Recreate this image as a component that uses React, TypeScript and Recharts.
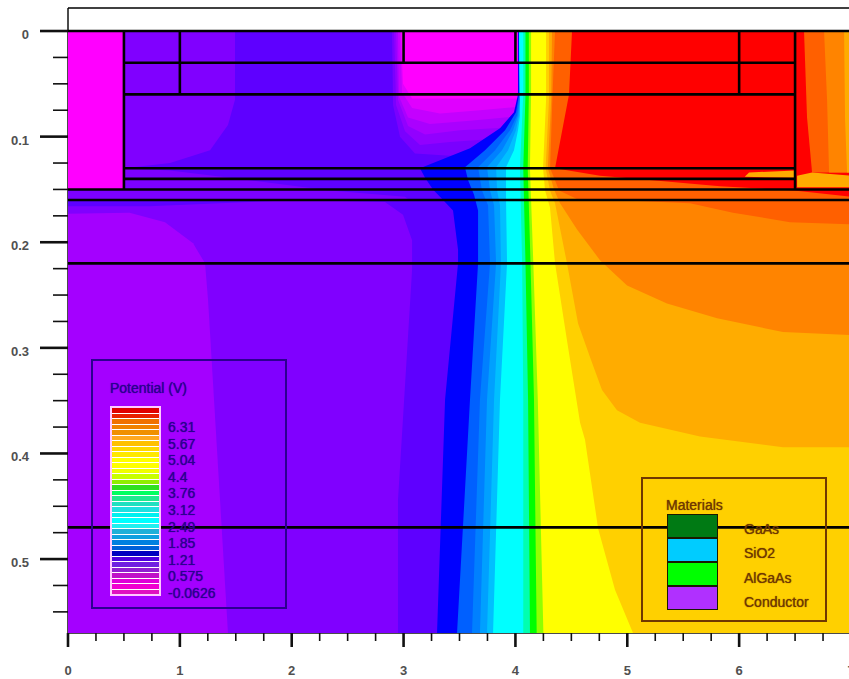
import React from "react";
import { ScatterChart, Scatter, XAxis, YAxis } from "recharts";

type Pt = [number, number];

const X_MAX = 7;
const Y_MIN = -0.0218;
const Y_MAX = 0.57;

const xTicks = [
  0, 0.25, 0.5, 0.75, 1, 1.25, 1.5, 1.75, 2, 2.25, 2.5, 2.75, 3, 3.25, 3.5, 3.75, 4, 4.25, 4.5, 4.75, 5, 5.25, 5.5,
  5.75, 6, 6.25, 6.5, 6.75, 7,
];
const yTicks = [
  0, 0.025, 0.05, 0.075, 0.1, 0.125, 0.15, 0.175, 0.2, 0.225, 0.25, 0.275, 0.3, 0.325, 0.35, 0.375, 0.4, 0.425, 0.45,
  0.475, 0.5, 0.525, 0.55,
];

// low potential regions (left side)
const contact: Pt[] = [[0, 0], [0.5, 0], [0.5, 0.15], [0, 0.15]];
const upperPurple: Pt[] = [[0.5, 0], [1.493, 0], [1.493, 0.065], [1.43, 0.089], [1.27, 0.113], [0.912, 0.125], [0.5, 0.13]];
const purpleSliver: Pt[] = [[0.5, 0.13], [0.912, 0.132], [1.538, 0.14], [2.342, 0.151], [3.013, 0.157], [3.05, 0.16], [0, 0.16], [0, 0.15], [0.5, 0.15]];
const lowerPurple: Pt[] = [[0, 0.166], [0.733, 0.166], [1.359, 0.163], [2.074, 0.16], [2.834, 0.162], [2.995, 0.174], [3.076, 0.198], [3.076, 0.226], [2.95, 0.444], [2.95, 0.57], [0, 0.57]];
const lowerLight: Pt[] = [[0, 0.173], [0.55, 0.172], [0.867, 0.181], [1.118, 0.201], [1.225, 0.22], [1.252, 0.255], [1.43, 0.57], [0, 0.57]];

// magenta blob under the gate
const blob1: Pt[] = [[2.897, 0], [2.906, 0.07], [2.968, 0.1], [3.102, 0.116], [3.415, 0.118], [4.1, 0.118], [4.1, 0]];
const blob2: Pt[] = [[2.915, 0], [2.933, 0.07], [3.013, 0.095], [3.147, 0.108], [3.415, 0.105], [4.1, 0.1], [4.1, 0]];
const blob3: Pt[] = [[2.933, 0], [2.95, 0.065], [3.04, 0.09], [3.192, 0.098], [3.505, 0.094], [4.1, 0.09], [4.1, 0]];
const blob4: Pt[] = [[2.95, 0], [2.959, 0.062], [3.04, 0.082], [3.236, 0.088], [3.594, 0.085], [4.1, 0.08], [4.1, 0]];
const blob5: Pt[] = [[2.968, 0], [2.986, 0.058], [3.076, 0.073], [3.326, 0.078], [3.683, 0.075], [4.1, 0.071], [4.1, 0]];
const blob6: Pt[] = [[2.977, 0], [2.995, 0.05], [3.076, 0.064], [4.1, 0.064], [4.1, 0]];

// high potential regions, each one runs out to the right edge
const blue0: Pt[] = [[4.023, 0], [4.023, 0.06], [3.987, 0.077], [3.862, 0.092], [3.594, 0.111], [3.147, 0.13], [3.192, 0.139], [3.263, 0.15], [3.353, 0.16], [3.442, 0.17], [3.487, 0.207], [3.487, 0.22], [3.371, 0.349], [3.299, 0.57], [7, 0.57], [7, 0]];
const blue1: Pt[] = [[4.032, 0], [4.032, 0.06], [4.005, 0.077], [3.907, 0.094], [3.728, 0.113], [3.549, 0.129], [3.576, 0.141], [3.63, 0.155], [3.666, 0.17], [3.666, 0.22], [3.594, 0.349], [3.478, 0.57], [7, 0.57], [7, 0]];
const blue2: Pt[] = [[4.032, 0], [4.032, 0.065], [4.014, 0.08], [3.952, 0.094], [3.818, 0.113], [3.666, 0.129], [3.701, 0.151], [3.755, 0.165], [3.773, 0.22], [3.683, 0.349], [3.612, 0.57], [7, 0.57], [7, 0]];
const blue3: Pt[] = [[4.032, 0], [4.041, 0.065], [4.023, 0.08], [3.979, 0.094], [3.88, 0.113], [3.746, 0.129], [3.773, 0.151], [3.809, 0.165], [3.827, 0.22], [3.746, 0.349], [3.683, 0.57], [7, 0.57], [7, 0]];
const blue4: Pt[] = [[4.032, 0], [4.041, 0.065], [4.032, 0.08], [4.005, 0.094], [3.934, 0.113], [3.827, 0.129], [3.836, 0.151], [3.862, 0.165], [3.871, 0.22], [3.809, 0.349], [3.746, 0.57], [7, 0.57], [7, 0]];
const cyan: Pt[] = [[4.032, 0], [4.041, 0.065], [4.041, 0.08], [4.023, 0.094], [3.987, 0.113], [3.916, 0.129], [3.916, 0.16], [3.925, 0.22], [3.862, 0.349], [3.8, 0.57], [7, 0.57], [7, 0]];
const mint: Pt[] = [[4.07, 0], [4.07, 0.06], [4.04, 0.13], [4.06, 0.22], [4.07, 0.349], [4.07, 0.57], [7, 0.57], [7, 0]];
const green: Pt[] = [[4.09, 0], [4.09, 0.06], [4.07, 0.13], [4.09, 0.22], [4.113, 0.349], [4.13, 0.57], [7, 0.57], [7, 0]];
const lime: Pt[] = [[4.12, 0], [4.12, 0.06], [4.11, 0.13], [4.135, 0.22], [4.166, 0.349], [4.19, 0.57], [7, 0.57], [7, 0]];
const yellow: Pt[] = [[4.14, 0], [4.14, 0.06], [4.13, 0.13], [4.16, 0.22], [4.2, 0.349], [4.25, 0.57], [7, 0.57], [7, 0]];
const gold: Pt[] = [[4.274, 0], [4.274, 0.065], [4.247, 0.13], [4.265, 0.151], [4.309, 0.167], [4.354, 0.22], [4.461, 0.293], [4.578, 0.371], [4.622, 0.387], [4.739, 0.471], [4.89, 0.529], [5.051, 0.57], [7, 0.57], [7, 0]];
const amber: Pt[] = [[4.3, 0], [4.3, 0.065], [4.27, 0.13], [4.309, 0.151], [4.354, 0.163], [4.461, 0.22], [4.56, 0.277], [4.667, 0.309], [4.774, 0.34], [4.908, 0.359], [5.114, 0.371], [5.65, 0.384], [6.392, 0.394], [7, 0.394], [7, 0]];
const orange: Pt[] = [[4.327, 0], [4.32, 0.065], [4.29, 0.13], [4.345, 0.15], [4.399, 0.163], [4.551, 0.188], [4.756, 0.217], [4.998, 0.241], [5.355, 0.258], [5.803, 0.272], [6.392, 0.285], [7, 0.288], [7, 0]];
const deep: Pt[] = [[4.354, 0], [4.33, 0.065], [4.31, 0.13], [4.345, 0.139], [4.39, 0.151], [4.55, 0.159], [5.1, 0.161], [5.561, 0.163], [5.945, 0.172], [6.455, 0.181], [7, 0.183], [7, 0]];
const red: Pt[] = [[4.506, 0], [4.479, 0.06], [4.354, 0.13], [4.756, 0.137], [5.2, 0.141], [5.829, 0.147], [6.491, 0.151], [7, 0.157], [7, 0]];

// corner right of the last contact
const cornerDeep: Pt[] = [[6.58, 0], [6.607, 0.082], [6.652, 0.134], [7, 0.134], [7, 0]];
const cornerOrange: Pt[] = [[6.759, 0], [6.786, 0.065], [6.804, 0.134], [7, 0.134], [7, 0]];
const cornerAmber: Pt[] = [[6.938, 0], [6.947, 0.084], [6.965, 0.134], [7, 0.134], [7, 0]];
const cornerBlock: Pt[] = [[6.518, 0.137], [6.652, 0.134], [7, 0.137], [7, 0.148], [6.518, 0.148]];
const amberSliver: Pt[] = [[6.089, 0.134], [6.5, 0.132], [6.5, 0.139], [6.05, 0.138]];

const regions: [Pt[], string][] = [
  [lowerPurple, "#8000ff"],
  [lowerLight, "#a400ff"],
  [upperPurple, "#8000ff"],
  [purpleSliver, "#7c00ff"],
  [contact, "#ff00ff"],
  [blob1, "#7a00ff"],
  [blob2, "#9200ff"],
  [blob3, "#aa00ff"],
  [blob4, "#c400ff"],
  [blob5, "#e000ff"],
  [blob6, "#ff00ff"],
  [blue0, "#0000ff"],
  [blue1, "#0060ff"],
  [blue2, "#0080ff"],
  [blue3, "#00a0ff"],
  [blue4, "#00c0ff"],
  [cyan, "#00ffff"],
  [mint, "#00ffb0"],
  [green, "#00ff00"],
  [lime, "#90ff00"],
  [yellow, "#ffff00"],
  [gold, "#ffd000"],
  [amber, "#ffac00"],
  [orange, "#ff8400"],
  [deep, "#ff6000"],
  [red, "#ff0000"],
  [cornerDeep, "#ff6000"],
  [cornerOrange, "#ff8400"],
  [cornerAmber, "#ffac00"],
  [cornerBlock, "#ffac00"],
  [amberSliver, "#ffac00"],
];

// structure lines: [x1, y1, x2, y2]
const meshLines: [number, number, number, number][] = [
  [0, Y_MIN, 7, Y_MIN],
  [0, 0, 7, 0],
  [0.5, 0.03, 6.5, 0.03],
  [0.5, 0.06, 6.5, 0.06],
  [0.5, 0.13, 6.5, 0.13],
  [0.5, 0.14, 6.5, 0.14],
  [0, 0.15, 7, 0.15],
  [0, 0.16, 7, 0.16],
  [0, 0.22, 7, 0.22],
  [0, 0.47, 7, 0.47],
  [0.5, 0, 0.5, 0.15],
  [1, 0, 1, 0.06],
  [3, 0, 3, 0.03],
  [4, 0, 4, 0.03],
  [6, 0, 6, 0.06],
  [6.5, 0, 6.5, 0.15],
];

const barColors = [
  "#e00000", "#e82000", "#f07000", "#f08000", "#f09000", "#ffa820", "#ffc000", "#ffd800", "#ffe800", "#ffff00",
  "#ffff00", "#f0ff00", "#c8ff00", "#90ee00", "#30e020", "#00ff60", "#20e890", "#20e0c0", "#20e0e0", "#00f0f0",
  "#00ffff", "#20f0f0", "#20b0d8", "#10a0e0", "#0080e0", "#0060d8", "#0000c0", "#5000e0", "#7020e0", "#9020d0",
  "#c010c8", "#e000d8", "#f000d0", "#e010c0",
];
const barLabels = ["6.31", "5.67", "5.04", "4.4", "3.76", "3.12", "2.49", "1.85", "1.21", "0.575", "-0.0626"];

const materials = ["GaAs", "SiO2", "AlGaAs", "Conductor"];
const materialColors = ["#007a14", "#00ccff", "#00ff00", "#b030ff"];

const FONT = "'Liberation Sans', Arial, sans-serif";
const noDot = () => <g />;

function XTick({ x, y, payload }: any) {
  const major = Number.isInteger(payload.value);
  return (
    <g>
      <line x1={x} x2={x} y1={y} y2={y + (major ? 14 : 8)} stroke="#111" strokeWidth={major ? 2.6 : 1.6} />
      {major && (
        <text x={x} y={y + 42} textAnchor="middle" fontSize={13} fontWeight="bold" fill="#505050" fontFamily={FONT}>
          {payload.value}
        </text>
      )}
    </g>
  );
}

function YTick({ x, y, payload }: any) {
  const major = Math.round(payload.value * 1000) % 100 === 0;
  return (
    <g>
      <line x1={x - (major ? 28 : 15)} x2={x} y1={y} y2={y} stroke="#111" strokeWidth={major ? 2.6 : 1.6} />
      {major && (
        <text x={x - 39} y={y + 8} textAnchor="end" fontSize={13} fontWeight="bold" fill="#505050" fontFamily={FONT}>
          {payload.value}
        </text>
      )}
    </g>
  );
}

const toPoints = (pts: Pt[]) => pts.map(([x, y]) => ({ x, y }));

function PotentialLegend() {
  const ink = "#2c0090";
  const soft = `0 0 1px ${ink}`;
  return (
    <>
      <div style={{ position: "absolute", left: 91, top: 359, width: 196, height: 250, boxSizing: "border-box", border: `2px solid ${ink}` }} />
      <div style={{ position: "absolute", left: 110, top: 380, fontSize: 14, color: ink, textShadow: soft }}>Potential (V)</div>
      <div
        style={{
          position: "absolute",
          left: 110,
          top: 406,
          width: 51,
          height: 190,
          boxSizing: "border-box",
          border: "2px solid #ffc8ff",
          display: "flex",
          flexDirection: "column",
        }}
      >
        {barColors.map((c, i) => (
          <div key={i} style={{ flex: 1, background: c, borderTop: i ? "1px solid #fff" : "none" }} />
        ))}
      </div>
      {barLabels.map((t, i) => (
        <div
          key={t}
          style={{ position: "absolute", left: 168, top: 419 + i * 16.6, fontSize: 14, lineHeight: "16px", color: ink, textShadow: soft }}
        >
          {t}
        </div>
      ))}
    </>
  );
}

function MaterialsLegend() {
  const ink = "#703800";
  const soft = `0 0 1px ${ink}`;
  return (
    <>
      <div style={{ position: "absolute", left: 641, top: 477, width: 186, height: 145, boxSizing: "border-box", border: `2px solid ${ink}` }} />
      <div style={{ position: "absolute", left: 666, top: 497, fontSize: 14, lineHeight: "16px", color: ink, textShadow: soft }}>Materials</div>
      <div
        style={{
          position: "absolute",
          left: 667,
          top: 514,
          width: 51,
          height: 96,
          boxSizing: "border-box",
          border: "1.5px solid #1a1a00",
          display: "flex",
          flexDirection: "column",
        }}
      >
        {materialColors.map((c, i) => (
          <div key={c} style={{ flex: 1, background: c, borderTop: i ? "2px solid #1a1a00" : "none" }} />
        ))}
      </div>
      {materials.map((t, i) => (
        <div
          key={t}
          style={{ position: "absolute", left: 744, top: 521 + i * 24.3, fontSize: 14, lineHeight: "16px", color: ink, textShadow: soft }}
        >
          {t}
        </div>
      ))}
    </>
  );
}

export default function App() {
  return (
    <div style={{ position: "absolute", left: 0, top: 0, width: 849, height: 679, overflow: "hidden", background: "#fff", fontFamily: FONT }}>
      <ScatterChart width={851} height={679} margin={{ top: 8, right: 0, bottom: 0, left: 0 }}>
        <XAxis
          type="number"
          dataKey="x"
          domain={[0, X_MAX]}
          ticks={xTicks}
          interval={0}
          height={46}
          tickSize={0}
          tickMargin={0}
          tickLine={false}
          axisLine={{ stroke: "#111", strokeWidth: 1.5 }}
          tick={XTick}
        />
        <YAxis
          type="number"
          dataKey="y"
          domain={[Y_MIN, Y_MAX]}
          ticks={yTicks}
          interval={0}
          reversed
          width={68}
          tickSize={0}
          tickMargin={0}
          tickLine={false}
          axisLine={{ stroke: "#111", strokeWidth: 1.5 }}
          tick={YTick}
        />
        {/* base violet, then the rest painted on top of it */}
        <Scatter
          data={toPoints([[0, 0], [7, 0], [7, 0.57], [0, 0.57]])}
          shape={noDot}
          line={{ fill: "#5e00ff", stroke: "none" }}
          isAnimationActive={false}
        />
        {regions.map(([pts, color], i) => (
          <Scatter key={i} data={toPoints(pts)} shape={noDot} line={{ fill: color, stroke: "none" }} isAnimationActive={false} />
        ))}
        {meshLines.map(([x1, y1, x2, y2], i) => (
          <Scatter
            key={`m${i}`}
            data={toPoints([[x1, y1], [x2, y2]])}
            shape={noDot}
            line={{ stroke: "#000", strokeWidth: y1 === Y_MIN ? 1.5 : 2.6, fill: "none" }}
            isAnimationActive={false}
          />
        ))}
      </ScatterChart>
      <PotentialLegend />
      <MaterialsLegend />
    </div>
  );
}
